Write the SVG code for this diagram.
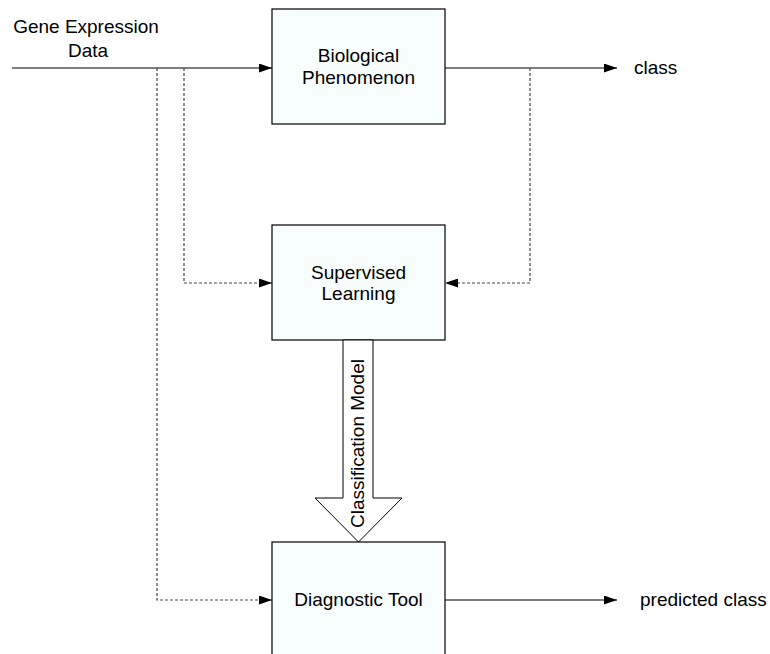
<svg xmlns="http://www.w3.org/2000/svg" width="770" height="654" viewBox="0 0 770 654">
<defs>
<marker id="ah" markerWidth="13" markerHeight="9" refX="13" refY="4.5" orient="auto" markerUnits="userSpaceOnUse">
<path d="M0,0 L13,4.5 L0,9 Z" fill="#000"/>
</marker>
</defs>
<style>
text{font-family:"Liberation Sans",Arial,sans-serif;font-size:19px;fill:#000}
.box{fill:#f8fdfe;stroke:#000;stroke-width:1.2}
.sol{fill:none;stroke:#555;stroke-width:1.5}
.dash{fill:none;stroke:#444;stroke-width:1.2;stroke-dasharray:3,2}
.mid{text-anchor:middle}
</style>
<rect width="770" height="654" fill="#fff"/>
<g id="connectors">
<line class="sol" x1="12" y1="68" x2="272" y2="68" marker-end="url(#ah)"/>
<line class="sol" x1="445" y1="68" x2="617" y2="68" marker-end="url(#ah)"/>
<line class="sol" x1="445" y1="600" x2="617" y2="600" marker-end="url(#ah)"/>
<polyline class="dash" points="157,68 157,600 272,600" marker-end="url(#ah)"/>
<polyline class="dash" points="184,68 184,283 272,283" marker-end="url(#ah)"/>
<polyline class="dash" points="530,68 530,283 445,283" marker-end="url(#ah)"/>
</g>
<g id="input-label">
<text x="86" y="33" class="mid">Gene Expression</text>
<text x="88" y="57" class="mid">Data</text>
</g>
<g id="biological-phenomenon">
<rect class="box" x="272" y="9" width="173" height="115"/>
<text x="358.5" y="62" class="mid">Biological</text>
<text x="358.5" y="84" class="mid">Phenomenon</text>
</g>
<g id="class-label">
<text x="634" y="74">class</text>
</g>
<g id="supervised-learning">
<rect class="box" x="272" y="225" width="173" height="115"/>
<text x="358.5" y="279" class="mid">Supervised</text>
<text x="358.5" y="300" class="mid">Learning</text>
</g>
<g id="classification-model">
<path d="M343,340 L373,340 L373,498 L402,498 L358.5,542 L315,498 L343,498 Z" fill="#fff" stroke="#000" stroke-width="1"/>
<text transform="translate(364,443.5) rotate(-90)" class="mid">Classification Model</text>
</g>
<g id="diagnostic-tool">
<rect class="box" x="272" y="542" width="173" height="125"/>
<text x="358.5" y="606" class="mid">Diagnostic Tool</text>
</g>
<g id="predicted-class-label">
<text x="640" y="606">predicted class</text>
</g>
</svg>
